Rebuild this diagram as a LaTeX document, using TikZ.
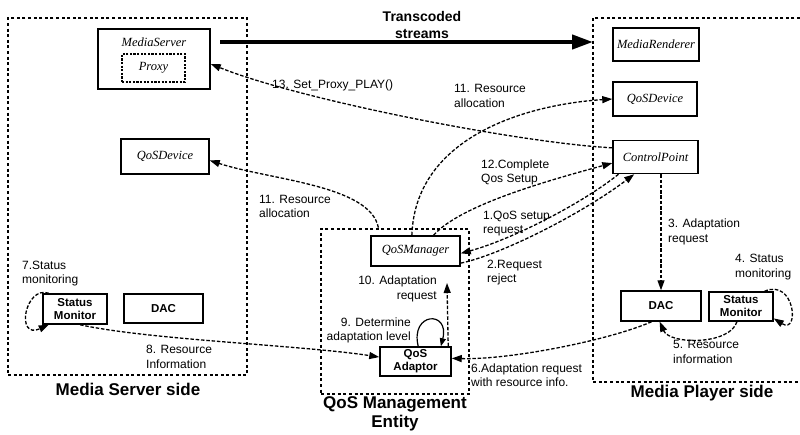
\documentclass[tikz,border=0pt]{standalone}
\usepackage{fontspec}
\newfontfamily\arial{Liberation Sans}
\newfontfamily\serifit{Liberation Serif}
\usetikzlibrary{arrows.meta,calc}
\begin{document}
\begin{tikzpicture}[x=1pt,y=-1pt,
  region/.style={draw, line width=2.8pt, dash pattern=on 3pt off 2.6pt},
  comp/.style={draw, line width=1.5pt, inner sep=0pt, font=\serifit\itshape\fontsize{12.5}{14}\selectfont},
  sbox/.style={draw, line width=1.5pt, inner sep=0pt, align=center, font=\arial\bfseries\fontsize{11.5}{13}\selectfont},
  conn/.style={line width=1.3pt, dash pattern=on 3.5pt off 1.8pt, -{Triangle[length=10pt,width=7pt]}},
  lbl/.style={font=\arial\fontsize{12}{14.5}\selectfont, inner sep=0pt},
  title/.style={font=\arial\bfseries\fontsize{17}{19}\selectfont, align=center, inner sep=0pt}
]
\useasboundingbox (0,0) rectangle (800,434);

% regions
\node[region, minimum width=239pt, minimum height=357pt] (msreg) at (127.5,196.5) {};
\node[region, minimum width=148pt, minimum height=165pt] (qreg) at (395,311.5) {};
\draw[region] (800,18) -- (593,18) -- (593,382) -- (800,382);

% titles
\node[title] (t1) at (128,389) {Media Server side};
\node[title] (t2) at (395,414) {QoS Management\\Entity};
\node[title] (t3) at (702,393) {Media Player side};
\node[font=\arial\bfseries\fontsize{14}{17}\selectfont, align=center, inner sep=0pt] (t4) at (422,25) {Transcoded\\streams};

% components
\node[comp, minimum width=112pt, minimum height=60pt] (ms) at (154,59) {};
\node[font=\serifit\itshape\fontsize{12.5}{14}\selectfont, inner sep=0pt] (mslbl) at (154,42) {MediaServer};
\node[comp, line width=1.2pt, dash pattern=on 2.2pt off 1.4pt, minimum width=63pt, minimum height=28pt] (proxy) at (153.5,68) {Proxy};
\node[comp, minimum width=88pt, minimum height=35pt] (qd1) at (165,156.5) {QoSDevice};
\node[sbox, minimum width=64pt, minimum height=30pt] (sm1) at (75,309) {Status\\Monitor};
\node[sbox, minimum width=79pt, minimum height=29pt] (dac1) at (163.5,308.5) {DAC};
\node[comp, minimum width=86pt, minimum height=33pt] (mr) at (656,44.5) {MediaRenderer};
\node[comp, minimum width=84pt, minimum height=34pt] (qd2) at (655,99) {QoSDevice};
\node[comp, minimum width=85pt, minimum height=33pt] (cp) at (655.5,157) {ControlPoint};
\node[sbox, minimum width=80pt, minimum height=30pt] (dac2) at (661,306) {DAC};
\node[sbox, minimum width=64pt, minimum height=29pt] (sm2) at (741,306.5) {Status\\Monitor};
\node[comp, minimum width=89pt, minimum height=30pt] (qm) at (415.5,251) {QoSManager};
\node[sbox, minimum width=71pt, minimum height=29pt] (qa) at (415.5,361.5) {QoS\\Adaptor};

% transcoded streams
\coordinate (tsA) at (220,42);
\coordinate (tsB) at (593,42);
\draw[line width=4.2pt, -{Triangle[length=21pt,width=14pt]}] (tsA) -- (tsB);

% labels
\node[lbl, anchor=west] (l13) at (272,85) {13. Set\_Proxy\_PLAY()};
\node[lbl, anchor=west, align=left] (l11r) at (454,96) {11. Resource\\allocation};
\node[lbl, anchor=west, align=left] (l11l) at (259,206.5) {11. Resource\\allocation};
\node[lbl, anchor=west, align=left] (l12) at (481,172.5) {12.Complete\\Qos Setup};
\node[lbl, anchor=west, align=left] (l1) at (483,223.5) {1.QoS setup\\request};
\node[lbl, anchor=west, align=left] (l2) at (487,272.5) {2.Request\\reject};
\node[lbl, anchor=west, align=left] (l3) at (668,232) {3. Adaptation\\request};
\node[lbl, anchor=west, align=left] (l4) at (735,267) {4. Status\\monitoring};
\node[lbl, anchor=west, align=left] (l5) at (673,352) {5. Resource\\information};
\node[lbl, anchor=west, align=left] (l6) at (471,375) {6.Adaptation request\\with resource info.};
\node[lbl, anchor=west, align=left] (l7) at (22,273.5) {7.Status\\monitoring};
\node[lbl, anchor=west, align=left] (l8) at (146,357) {8. Resource\\Information};
\node[lbl, anchor=east, align=right] (l9) at (411,330.5) {9. Determine\\adaptation level};
\node[lbl, anchor=east, align=right] (l10) at (437,289) {10. Adaptation\\request};

% connectors
\draw[conn] (cp.168) .. controls (520,143) and (300,100) .. (ms.-5);
\draw[conn] (qm.103) .. controls (415,140) and (520,105) .. (qd2.west);
\draw[conn] (qm.157 |- qreg.north) .. controls (370,185) and (270,180) .. (qd1.-5);
\draw[conn] (qm.41) .. controls (460,205) and (550,180) .. (cp.188);
\draw[conn] (cp.205) .. controls (580,205) and (510,240) .. (qm.-3);
\draw[conn] (qm.-15) .. controls (500,255) and (580,215) .. (cp.219);
\draw[conn] (cp.south -| dac2.north) -- (dac2.north);
\draw[conn] (sm2.33) .. controls (795,278) and (800,335) .. (sm2.-20);
\draw[conn] (sm2.-105) .. controls (730,345) and (670,345) .. (dac2.-95);
\draw[conn] (dac2.239) .. controls (610,340) and (510,360) .. (qa.5);
\draw[conn] (sm1.149) .. controls (25,285) and (15,340) .. (sm1.211);
\draw[conn] (sm1.-72) .. controls (150,340) and (300,345) .. (qa.173);
\draw[line width=1.2pt, -{Triangle[length=8pt,width=6pt]}] (qa.80) .. controls (410,312) and (450,310) .. (qa.31);
\coordinate (c10e) at (447,283);
\draw[conn] (qa.25) -- (c10e);
\end{tikzpicture}
\end{document}
